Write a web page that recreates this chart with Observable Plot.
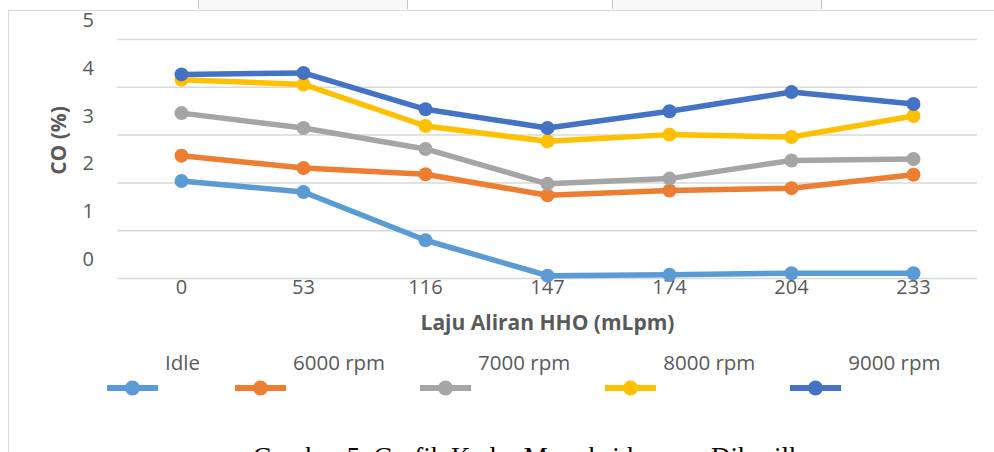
<!DOCTYPE html>
<html>
<head>
<meta charset="utf-8">
<script src="https://cdn.jsdelivr.net/npm/d3@7"></script>
<script src="https://cdn.jsdelivr.net/npm/@observablehq/plot@0.6"></script>
<style>
  html, body { margin: 0; padding: 0; background: #fff; }
  #wrap { position: relative; width: 994px; height: 452px; overflow: hidden; background: #fff; font-family: "Open Sans", sans-serif; }
  #chart { position: absolute; left: 0; top: 0; }
  .bline { position: absolute; background: #d9d9d9; }
  .tab { position: absolute; top: 0; height: 9px; background: #f8f8f8; border-left: 1px solid #c4c4c4; border-right: 1px solid #c4c4c4; }
  #legend { position: absolute; left: 107px; top: 380px; display: flex; align-items: center; height: 16px; }
  .item { display: flex; align-items: center; }
  .item span { position: relative; top: -25.5px; margin-left: 7px; margin-right: 35px; font-size: 20.5px; line-height: 1; color: #595959; white-space: nowrap; }
  #caption { position: absolute; left: 253px; top: 444px; font-family: "Liberation Serif", "Times New Roman", serif; font-size: 27px; line-height: 1; color: #000; white-space: nowrap; }
</style>
</head>
<body>
<div id="wrap">
  <div class="bline" style="left:8px; top:9.5px; width:986px; height:1.5px;"></div>
  <div class="bline" style="left:7.5px; top:10px; width:1.5px; height:442px;"></div>
  <div class="tab" style="left:198px; width:208px;"></div>
  <div class="tab" style="left:612px; width:208px;"></div>
  <div id="chart"></div>
  <div id="legend"></div>
  <div id="caption">Gambar 5. Grafik Kadar Monoksida yang Dihasilkan</div>
</div>
<script>
const categories = ["0", "53", "116", "147", "174", "204", "233"];
const seriesNames = ["Idle", "6000 rpm", "7000 rpm", "8000 rpm", "9000 rpm"];
const idle    = [2.04, 1.81, 0.80, 0.06, 0.08, 0.11, 0.11];
const rpm6000 = [2.57, 2.31, 2.18, 1.74, 1.84, 1.89, 2.17];
const rpm7000 = [3.46, 3.15, 2.71, 1.98, 2.09, 2.47, 2.50];
const rpm8000 = [4.16, 4.06, 3.19, 2.87, 3.01, 2.96, 3.40];
const rpm9000 = [4.27, 4.30, 3.54, 3.15, 3.50, 3.90, 3.65];
const seriesColors = ["#5B9BD5", "#ED7D31", "#A5A5A5", "#FFC000", "#4472C4"];
const yTicks = [0, 1, 2, 3, 4, 5];
const xTitle = "Laju Aliran HHO (mLpm)";
const yTitle = "CO (%)";

const seriesValues = [idle, rpm6000, rpm7000, rpm8000, rpm9000];
const rows = seriesNames.flatMap((s, i) =>
  categories.map((c, j) => ({series: s, x: c, y: seriesValues[i][j]}))
);

const seriesMarks = seriesNames.flatMap(s => {
  const d = rows.filter(r => r.series === s);
  return [
    Plot.line(d, {x: "x", y: "y", stroke: "series", strokeWidth: 5.5, strokeLinejoin: "round", strokeLinecap: "round"}),
    Plot.dot(d, {x: "x", y: "y", fill: "series", r: 7, stroke: "none"})
  ];
});

const chart = Plot.plot({
  width: 994,
  height: 340,
  marginLeft: 117,
  marginRight: 17,
  marginTop: 39,
  marginBottom: 62,
  style: {fontFamily: "Open Sans", fontSize: "20px", color: "#595959", background: "transparent", overflow: "visible"},
  x: {type: "point", domain: categories, label: null},
  y: {domain: [0, 5], label: null},
  color: {domain: seriesNames, range: seriesColors},
  marks: [
    Plot.gridY(yTicks, {stroke: "#d9d9d9", strokeOpacity: 1, strokeWidth: 1.5}),
    Plot.axisY(yTicks, {tickSize: 0, tickPadding: 23.5, dy: -19, fontSize: 20, fill: "#595959", label: null}),
    Plot.axisX({tickSize: 0, tickPadding: 1, fontSize: 20, fill: "#595959", label: null}),
    ...seriesMarks,
    Plot.text([yTitle], {frameAnchor: "left", textAnchor: "middle", dx: -58.5, dy: -18.5, rotate: -90, fontWeight: "bold", fontSize: 21, fill: "#595959"}),
    Plot.text([xTitle], {frameAnchor: "bottom", textAnchor: "middle", dy: 51, fontWeight: "bold", fontSize: 21, fill: "#595959"})
  ]
});
document.getElementById("chart").appendChild(chart);

const legend = document.getElementById("legend");
seriesNames.forEach((s, i) => {
  const item = document.createElement("div");
  item.className = "item";
  const c = seriesColors[i];
  item.innerHTML = `<svg width="51" height="16" style="overflow:visible"><line x1="0" y1="8" x2="51" y2="8" stroke="${c}" stroke-width="6"/><circle cx="25.5" cy="8" r="7.5" fill="${c}"/></svg><span>${s}</span>`;
  legend.appendChild(item);
});
</script>
</body>
</html>
